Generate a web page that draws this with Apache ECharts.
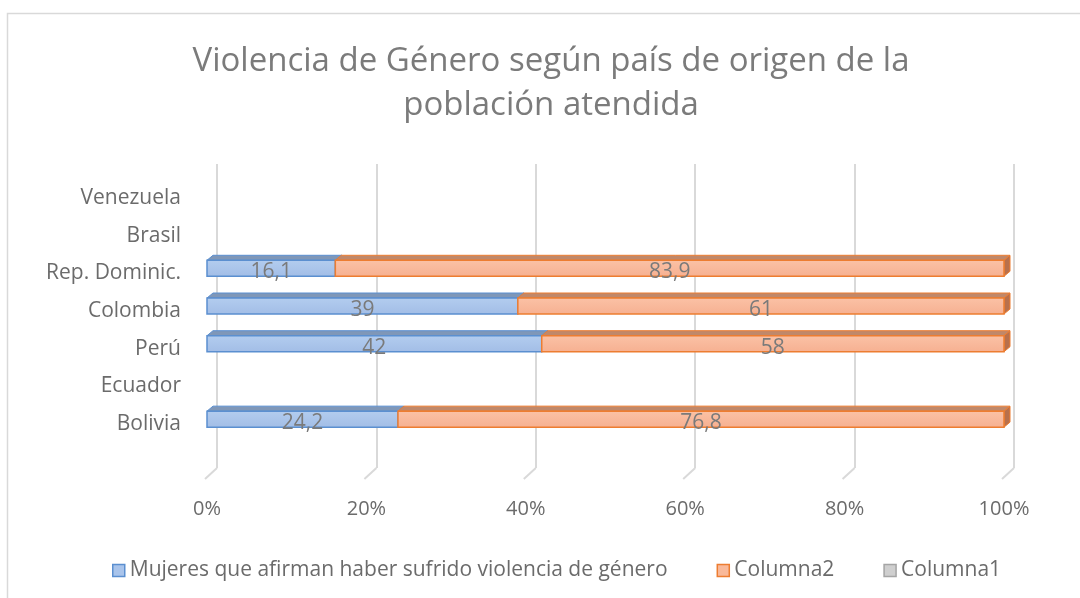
<!DOCTYPE html>
<html>
<head>
<meta charset="utf-8">
<script src="https://cdn.jsdelivr.net/npm/echarts@6/dist/echarts.min.js"></script>
<style>html,body{margin:0;padding:0;background:#fff}#c{width:1080px;height:598px}</style>
</head>
<body>
<div id="c"></div>
<script>
const categories = ['Bolivia', 'Ecuador', 'Perú', 'Colombia', 'Rep. Dominic.', 'Brasil', 'Venezuela'];
const mujeres = [24.2, null, 42, 39, 16.1, null, null];
const columna2 = [76.8, null, 58, 61, 83.9, null, null];
const columna1 = [null, null, null, null, null, null, null];
const xTicks = [0, 20, 40, 60, 80, 100];
const seriesNames = ['Mujeres que afirman haber sufrido violencia de género', 'Columna2', 'Columna1'];

const FONT = '"Open Sans", "Noto Sans", sans-serif';

function totals(i) {
  return (mujeres[i] || 0) + (columna2[i] || 0) + (columna1[i] || 0);
}
function segData(vals, prevArrays) {
  const out = [];
  vals.forEach((v, i) => {
    if (v == null) return;
    const t = totals(i);
    let start = 0;
    prevArrays.forEach(a => { start += a[i] || 0; });
    out.push([start / t * 100, (start + v) / t * 100, i, v]);
  });
  return out;
}

function render3d(frontTop, frontBot, topFill, sideFill, stroke) {
  return function (params, api) {
    const s = api.value(0), e = api.value(1), cat = api.value(2), v = api.value(3);
    const p0 = api.coord([s, cat]);
    const p1 = api.coord([e, cat]);
    const h = 16, dx = 6, dy = 5;
    const yc = p0[1] - 5;
    const top = yc - h / 2, bot = yc + h / 2;
    const x0 = p0[0], x1 = p1[0];
    return {
      type: 'group',
      children: [
        { type: 'polygon', shape: { points: [[x0, top], [x0 + dx, top - dy], [x1 + dx, top - dy], [x1, top]] },
          style: { fill: topFill, stroke: stroke, lineWidth: 1 } },
        { type: 'polygon', shape: { points: [[x1, top], [x1 + dx, top - dy], [x1 + dx, bot - dy], [x1, bot]] },
          style: { fill: sideFill, stroke: stroke, lineWidth: 1 } },
        { type: 'rect', shape: { x: x0, y: top, width: x1 - x0, height: h },
          style: { fill: new echarts.graphic.LinearGradient(0, 0, 0, 1, [{ offset: 0, color: frontTop }, { offset: 1, color: frontBot }]),
                   stroke: stroke, lineWidth: 1.5 } },
        { type: 'text', x: (x0 + x1) / 2, y: p0[1] - 1,
          style: { text: String(v).replace('.', ','), fill: '#7a7a7a', font: '21px ' + FONT, align: 'center', verticalAlign: 'middle' } }
      ]
    };
  };
}

const chart = echarts.init(document.getElementById('c'), null, { renderer: 'canvas' });
chart.setOption({
  animation: false,
  backgroundColor: '#fff',
  graphic: [
    { type: 'rect', shape: { x: 7.5, y: 13.5, width: 1200, height: 700 }, style: { fill: 'none', stroke: '#d9d9d9', lineWidth: 1.5 }, z: -10 }
  ],
  title: {
    text: 'Violencia de Género según país de origen de la\npoblación atendida',
    left: 551, top: 40, textAlign: 'center', padding: 0,
    textStyle: { fontFamily: FONT, fontSize: 33, fontWeight: 'normal', color: '#7b7b7b', lineHeight: 44 }
  },
  legend: {
    left: 107, top: 555, itemGap: 49, itemWidth: 12, itemHeight: 12,
    textStyle: { fontFamily: FONT, fontSize: 21, color: '#6b6b6b' },
    data: [
      { name: seriesNames[0], icon: 'rect', itemStyle: { color: '#a9c4eb', borderColor: '#5b8fd0', borderWidth: 1.5 } },
      { name: seriesNames[1], icon: 'rect', itemStyle: { color: '#f9b99a', borderColor: '#ed7d31', borderWidth: 1.5 } },
      { name: seriesNames[2], icon: 'rect', itemStyle: { color: '#cfcfcf', borderColor: '#a5a5a5', borderWidth: 1.5 } }
    ]
  },
  grid: [
    { left: 207, right: 76, top: 179, bottom: 155 },
    { left: 217, right: 66, top: 164, bottom: 130 }
  ],
  xAxis: [
    { type: 'value', gridIndex: 0, min: 0, max: 100, interval: 20,
      axisLine: { show: false }, axisTick: { show: false }, splitLine: { show: false },
      axisLabel: { margin: 56, fontFamily: FONT, fontSize: 20, color: '#6b6b6b', formatter: v => v + '%' } },
    { type: 'value', gridIndex: 1, min: 0, max: 100, interval: 20,
      axisLine: { show: false }, axisTick: { show: false }, axisLabel: { show: false },
      splitLine: { show: true, lineStyle: { color: '#d9d9d9', width: 2 } } }
  ],
  yAxis: [
    { type: 'category', gridIndex: 0, data: categories,
      axisLine: { show: false }, axisTick: { show: false }, splitLine: { show: false },
      axisLabel: { margin: 26, fontFamily: FONT, fontSize: 21, color: '#6b6b6b' } },
    { type: 'value', gridIndex: 1, min: 0, max: 1, show: false, splitLine: { show: false } }
  ],
  series: [
    { type: 'custom', name: 'ticks3d', xAxisIndex: 1, yAxisIndex: 1, silent: true, z: 1,
      data: xTicks.map(v => [v]),
      renderItem: function (params, api) {
        const p = api.coord([api.value(0), 0]);
        return { type: 'line', shape: { x1: p[0], y1: p[1], x2: p[0] - 12, y2: p[1] + 11 },
                 style: { stroke: '#d9d9d9', lineWidth: 2 } };
      } },
    { type: 'custom', name: seriesNames[0], xAxisIndex: 0, yAxisIndex: 0, z: 3,
      itemStyle: { color: '#a9c4eb' },
      data: segData(mujeres, []),
      renderItem: render3d('#b3cdef', '#a2bde6', '#7f97b8', '#8aa7cf', '#5b8fd0') },
    { type: 'custom', name: seriesNames[1], xAxisIndex: 0, yAxisIndex: 0, z: 4,
      itemStyle: { color: '#f9b99a' },
      data: segData(columna2, [mujeres]),
      renderItem: render3d('#fbc2a6', '#f6b091', '#c0886a', '#b8704c', '#ed7d31') },
    { type: 'custom', name: seriesNames[2], xAxisIndex: 0, yAxisIndex: 0, z: 5,
      itemStyle: { color: '#cfcfcf' },
      data: segData(columna1, [mujeres, columna2]),
      renderItem: render3d('#d6d6d6', '#c6c6c6', '#9a9a9a', '#8f8f8f', '#a5a5a5') }
  ]
});
</script>
</body>
</html>
